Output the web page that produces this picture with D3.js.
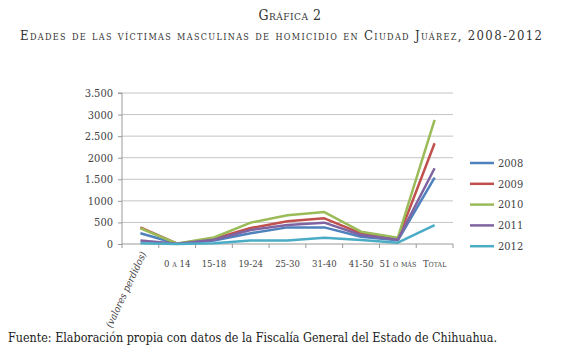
<!DOCTYPE html>
<html>
<head>
<meta charset="utf-8">
<script src="https://cdn.jsdelivr.net/npm/d3@7"></script>
<style>
body { margin: 0; background: #fff; }
svg text { font-family: "DejaVu Serif Condensed", "DejaVu Serif", serif !important; }
</style>
</head>
<body>
<script>
var width = 580, height = 354;

// categories (x axis) and series values
var categories = ["(valores perdidos)", "0 a 14", "15-18", "19-24", "25-30", "31-40", "41-50", "51 o más", "Total"];
var years = ["2008", "2009", "2010", "2011", "2012"];
var v2008 = [250, 5, 80, 250, 385, 385, 170, 85, 1540];
var v2009 = [385, 8, 120, 370, 525, 595, 248, 108, 2335];
var v2010 = [365, 10, 150, 495, 665, 740, 285, 145, 2875];
var v2011 = [80, 5, 100, 325, 440, 495, 210, 100, 1755];
var v2012 = [20, 2, 20, 80, 80, 145, 90, 30, 440];
var yTicks = [0, 500, 1000, 1500, 2000, 2500, 3000, 3500];
var yTickLabels = ["0", "500", "1000", "1.500", "2000", "2.500", "3000", "3.500"];

var seriesValues = [v2008, v2009, v2010, v2011, v2012];
var colors = ["#4F81BD", "#C0504D", "#9BBB59", "#8064A2", "#4BACC6"];

var plot = {left: 122, right: 453, top: 93, bottom: 244};

var svg = d3.select("body").append("svg")
    .attr("width", width)
    .attr("height", height);

// titles
svg.append("text")
    .attr("x", 290).attr("y", 20)
    .attr("text-anchor", "middle")
    .style("font-size", "14px")
    .style("font-variant", "small-caps")
    .style("letter-spacing", "0.5px")
    .attr("fill", "#333")
    .text("Gráfica 2");
svg.append("text")
    .attr("x", 281).attr("y", 40)
    .attr("text-anchor", "middle")
    .style("font-size", "13px")
    .style("font-variant", "small-caps")
    .attr("textLength", 522)
    .attr("lengthAdjust", "spacing")
    .attr("fill", "#333")
    .text("Edades de las víctimas masculinas de homicidio en Ciudad Juárez, 2008-2012");

var x = d3.scaleBand().domain(categories).range([plot.left, plot.right]);
var y = d3.scaleLinear().domain([0, 3500]).range([plot.bottom, plot.top]);

// gridlines
svg.append("g").selectAll("line").data(yTicks.slice(1)).join("line")
    .attr("x1", plot.left).attr("x2", plot.right)
    .attr("y1", function(d){ return y(d); }).attr("y2", function(d){ return y(d); })
    .attr("stroke", "#c4c4c4").attr("stroke-width", 1);

// y axis
var yAxis = d3.axisLeft(y).tickValues(yTicks).tickSize(4).tickPadding(5)
    .tickFormat(function(d, i){ return yTickLabels[i]; });
var gy = svg.append("g").attr("transform", "translate(" + plot.left + ",0)").call(yAxis);
gy.select(".domain").attr("stroke", "#999").attr("d", "M-4," + plot.top + "H0V" + (plot.bottom + 4));
gy.selectAll(".tick line").attr("stroke", "#999");
gy.selectAll(".tick text").style("font-size", "11px").attr("fill", "#444");

// x axis
var xAxis = d3.axisBottom(x).tickSize(0).tickPadding(16);
var gx = svg.append("g").attr("transform", "translate(0," + plot.bottom + ")").call(xAxis);
gx.select(".domain").attr("stroke", "#999").attr("d", "M" + plot.left + ",0H" + plot.right);
gx.selectAll(".tick text")
    .style("font-size", "9.5px")
    .style("font-variant", "small-caps")
    .attr("fill", "#444");
gx.selectAll(".tick").filter(function(d){ return d === categories[0]; }).select("text")
    .attr("text-anchor", "end")
    .attr("dy", "0.35em")
    .style("font-size", "10px")
    .style("font-style", "italic")
    .style("font-variant", "normal")
    .attr("transform", "translate(3,8) rotate(-65)")
    .attr("y", 0).attr("x", 0);
// tick marks between categories
gx.selectAll(".sep").data(categories.slice(1).concat(["_end"])).join("line")
    .attr("class", "sep")
    .attr("x1", function(d, i){ return plot.left + x.step() * (i + 1); })
    .attr("x2", function(d, i){ return plot.left + x.step() * (i + 1); })
    .attr("y1", 0).attr("y2", 4)
    .attr("stroke", "#999");

// lines
var line = d3.line()
    .x(function(d, i){ return x(categories[i]) + x.bandwidth() / 2; })
    .y(function(d){ return y(d); });

svg.append("g").selectAll("path").data(seriesValues).join("path")
    .attr("d", line)
    .attr("fill", "none")
    .attr("stroke", function(d, i){ return colors[i]; })
    .attr("stroke-width", 2.5)
    .attr("stroke-linejoin", "round");

// legend
var legend = svg.append("g").selectAll("g").data(years).join("g")
    .attr("transform", function(d, i){ return "translate(470," + (163 + i * 20.8) + ")"; });
legend.append("line")
    .attr("x1", 0).attr("x2", 24)
    .attr("stroke", function(d, i){ return colors[i]; })
    .attr("stroke-width", 2.5);
legend.append("text")
    .attr("x", 28).attr("dy", "0.35em")
    .style("font-size", "11px")
    .attr("fill", "#444")
    .text(function(d){ return d; });

// source
svg.append("text")
    .attr("x", 8).attr("y", 342)
    .style("font-size", "13px")
    .attr("textLength", 489)
    .attr("lengthAdjust", "spacingAndGlyphs")
    .attr("fill", "#222")
    .text("Fuente: Elaboración propia con datos de la Fiscalía General del Estado de Chihuahua.");
</script>
</body>
</html>
